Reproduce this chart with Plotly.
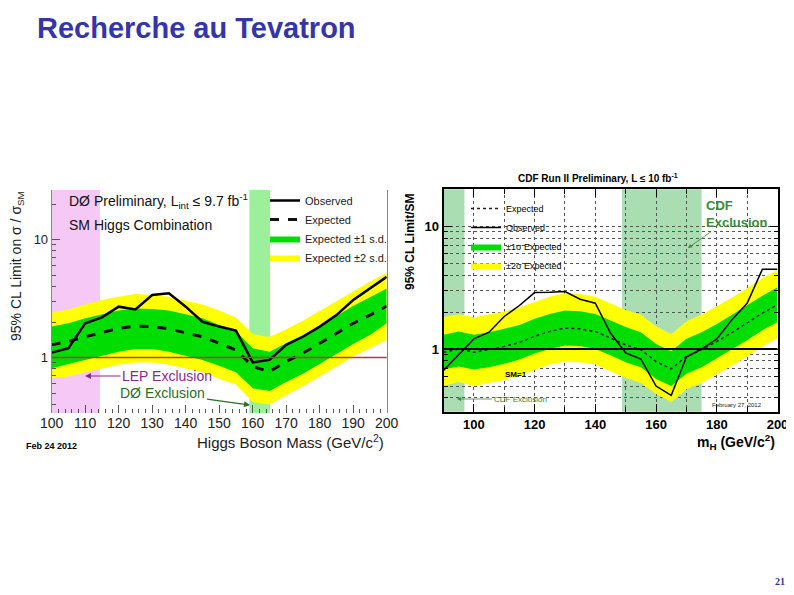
import plotly.graph_objects as go

# the page body keeps its default 8px margin, so the figure sits at (8, 8)
OFF = 8
W, H = 794 - OFF, 595 - 2 * OFF

# --- DØ combination, Feb 24 2012 ---
d0_mass = [100, 105, 110, 115, 120, 125, 130, 135, 140, 145, 150,
           155, 160, 165, 170, 175, 180, 185, 190, 195, 200]
d0_obs = [1.10, 1.20, 1.95, 2.19, 2.70, 2.56, 3.39, 3.50, 2.70, 2.01, 1.83,
          1.69, 0.91, 0.955, 1.28, 1.50, 1.83, 2.29, 3.07, 3.85, 4.83]
d0_exp = [1.28, 1.37, 1.50, 1.63, 1.77, 1.85, 1.83, 1.75, 1.63, 1.50, 1.32,
          1.16, 0.84, 0.76, 0.925, 1.09, 1.32, 1.61, 1.95, 2.29, 2.73]
d0_p1 = [1.83, 1.95, 2.15, 2.32, 2.50, 2.61, 2.58, 2.50, 2.32, 2.15, 1.89,
         1.66, 1.20, 1.12, 1.32, 1.55, 1.86, 2.25, 2.73, 3.24, 3.85]
d0_m1 = [0.81, 0.88, 0.955, 1.03, 1.12, 1.18, 1.18, 1.12, 1.03, 0.955, 0.85,
         0.75, 0.55, 0.52, 0.62, 0.73, 0.88, 1.07, 1.30, 1.55, 1.95]
d0_p2 = [2.40, 2.56, 2.82, 3.07, 3.28, 3.45, 3.39, 3.28, 3.03, 2.82, 2.50,
         2.19, 1.58, 1.49, 1.74, 2.05, 2.48, 3.01, 3.66, 4.39, 5.23]
d0_m2 = [0.67, 0.69, 0.75, 0.81, 0.87, 0.91, 0.91, 0.87, 0.81, 0.75, 0.66,
         0.59, 0.42, 0.40, 0.48, 0.57, 0.69, 0.84, 1.02, 1.20, 1.41]
d0_lep_excl = [100, 114.4]
d0_excl = [159, 165.2]

# --- CDF combination, Feb 27 2012 ---
cdf_mass = [90, 95, 100, 105, 110, 115, 120, 125, 130, 135, 140, 145,
            150, 155, 160, 165, 170, 175, 180, 185, 190, 195, 200]
cdf_obs = [0.67, 0.90, 1.21, 1.37, 1.84, 2.26, 2.88, 2.90, 2.94, 2.54, 2.36, 1.35,
           0.93, 0.83, 0.50, 0.42, 0.86, 1.00, 1.21, 1.73, 2.36, 4.45, 4.45]
cdf_exp = [0.94, 1.00, 0.94, 0.99, 1.05, 1.13, 1.27, 1.39, 1.48, 1.46, 1.39, 1.23,
           1.08, 0.99, 0.79, 0.69, 0.87, 0.99, 1.15, 1.36, 1.62, 1.96, 2.29]
cdf_p1 = [1.31, 1.39, 1.31, 1.37, 1.46, 1.57, 1.76, 1.93, 2.06, 2.03, 1.93, 1.71,
          1.51, 1.37, 1.10, 0.96, 1.21, 1.37, 1.60, 1.90, 2.26, 2.72, 3.18]
cdf_m1 = [0.68, 0.72, 0.68, 0.71, 0.76, 0.82, 0.92, 1.00, 1.07, 1.06, 1.00, 0.89,
          0.78, 0.71, 0.57, 0.50, 0.63, 0.71, 0.84, 0.99, 1.18, 1.42, 1.66]
cdf_p2 = [1.81, 1.92, 1.81, 1.90, 2.02, 2.18, 2.43, 2.67, 2.85, 2.81, 2.67, 2.36,
          2.08, 1.90, 1.53, 1.32, 1.68, 1.90, 2.22, 2.62, 3.12, 3.76, 4.40]
cdf_m2 = [0.50, 0.54, 0.50, 0.53, 0.56, 0.61, 0.68, 0.75, 0.79, 0.78, 0.75, 0.66,
          0.58, 0.53, 0.43, 0.37, 0.47, 0.53, 0.62, 0.73, 0.87, 1.05, 1.23]
cdf_excl = [[90, 96.9], [148.8, 175]]

SM_LEVEL = 1
LOG_MINOR = [0.4, 0.5, 0.6, 0.7, 0.8, 0.9, 2, 3, 4, 5, 6, 7, 8, 9, 20]

YELLOW = "#FFFF00"
GREEN = "#00DD00"
FONT = "Liberation Sans, Arial, sans-serif"


def px(x):
    return (x - OFF) / W


def py(y):
    return 1 - (y - OFF) / H


def add_bands(fig, x, m2, p2, m1, p1, xa, ya, legend, names, ranks):
    for lo, hi, color, name, rank in [(m2, p2, YELLOW, names[1], ranks[1]),
                                      (m1, p1, GREEN, names[0], ranks[0])]:
        fig.add_trace(go.Scatter(x=x, y=lo, mode="lines", line=dict(width=0),
                                 showlegend=False, hoverinfo="skip", xaxis=xa, yaxis=ya))
        fig.add_trace(go.Scatter(x=x, y=hi, mode="lines", line=dict(width=0),
                                 fill="tonexty", fillcolor=color, name=name,
                                 legend=legend, legendrank=rank, xaxis=xa, yaxis=ya))


fig = go.Figure()

# DØ
add_bands(fig, d0_mass, d0_m2, d0_p2, d0_m1, d0_p1, "x", "y", "legend",
          ["Expected ±1 s.d.", "Expected ±2 s.d."], [3, 4])
fig.add_trace(go.Scatter(x=d0_mass, y=d0_exp, mode="lines", name="Expected",
                         line=dict(color="#111", width=3, dash="dash"),
                         legend="legend", legendrank=2))
fig.add_trace(go.Scatter(x=d0_mass, y=d0_obs, mode="lines", name="Observed",
                         line=dict(color="#000", width=2.5),
                         legend="legend", legendrank=1))

# CDF
add_bands(fig, cdf_mass, cdf_m2, cdf_p2, cdf_m1, cdf_p1, "x2", "y2", "legend2",
          ["±1σ Expected", "±2σ Expected"], [3, 4])
fig.add_trace(go.Scatter(x=cdf_mass, y=cdf_exp, mode="lines", name="Expected",
                         line=dict(color="#222", width=1.5, dash="dot"),
                         xaxis="x2", yaxis="y2", legend="legend2", legendrank=1))
fig.add_trace(go.Scatter(x=cdf_mass, y=cdf_obs, mode="lines", name="Observed",
                         line=dict(color="#000", width=1.5),
                         xaxis="x2", yaxis="y2", legend="legend2", legendrank=2))

shapes = [
    dict(type="rect", xref="x", yref="y domain", x0=d0_lep_excl[0], x1=d0_lep_excl[1],
         y0=0, y1=1, fillcolor="#F5C8F5", line=dict(width=0), layer="below"),
    dict(type="rect", xref="x", yref="y domain", x0=d0_excl[0], x1=d0_excl[1],
         y0=0, y1=1, fillcolor="#9CF09C", line=dict(width=0), layer="below"),
    dict(type="line", xref="x domain", yref="y", x0=0, x1=1, y0=SM_LEVEL, y1=SM_LEVEL,
         line=dict(color="#C83232", width=1.5), layer="above"),
    dict(type="line", xref="x2 domain", yref="y2", x0=0, x1=1, y0=SM_LEVEL, y1=SM_LEVEL,
         line=dict(color="#000", width=2), layer="above"),
]
for lo, hi in cdf_excl:
    shapes.append(dict(type="rect", xref="x2", yref="y2 domain", x0=lo, x1=hi, y0=0, y1=1,
                       fillcolor="#AADDB2", line=dict(width=0), layer="below"))


def note(x, y, text, size, color="#000", bold=False, xanchor="center",
         family=FONT, **kw):
    return dict(x=px(x), y=py(y), xref="paper", yref="paper", text=text, showarrow=False,
                xanchor=xanchor, yanchor="middle",
                font=dict(family=family, size=size, color=color,
                          weight="bold" if bold else "normal"), **kw)


def arrow_note(hx, hy, tx, ty, text, size, color, bold=False, align="center", width=1.2):
    return dict(x=px(hx), y=py(hy), xref="paper", yref="paper", text=text, showarrow=True,
                ax=tx - hx, ay=ty - hy, arrowhead=2, arrowsize=1, arrowwidth=width,
                arrowcolor=color, align=align,
                font=dict(family=FONT, size=size, color=color,
                          weight="bold" if bold else "normal"))


annotations = [
    note(35, 28, "Recherche au Tevatron", 29, "#3535A8", bold=True, xanchor="left"),
    note(780, 581, "21", 10, "#333399", bold=True, family="Liberation Serif, serif"),
    # DØ
    note(67, 201, "DØ Preliminary, L<sub>int</sub> ≤ 9.7 fb<sup>-1</sup>", 14, "#111",
         xanchor="left"),
    note(67, 225, "SM Higgs Combination", 14, "#111", xanchor="left"),
    arrow_note(85, 376, 167, 376, "LEP Exclusion", 14, "#8B2A8B"),
    arrow_note(250, 405, 163, 393, "DØ Exclusion", 14, "#2A6E2A"),
    note(24, 446, "Feb 24 2012", 9, bold=True, xanchor="left"),
    note(17, 266, "95% CL Limit on σ / σ<sub>SM</sub>", 14, "#222", textangle=-90),
    note(386, 441, "Higgs Boson Mass (GeV/c<sup>2</sup>)", 15, "#222", xanchor="right"),
    # CDF
    note(598, 178, "CDF Run II Preliminary, L ≤ 10 fb<sup>-1</sup>", 10, bold=True),
    arrow_note(688, 248, 736, 214, "CDF<br>Exclusion", 13, "#3A8A3A", bold=True,
               align="left", width=0.8),
    note(516, 374, "SM=1", 8, bold=True),
    arrow_note(457, 399, 520, 399, "CDF Exclusion", 8, "#3A8A3A", width=0.8),
    note(737, 405, "February 27, 2012", 6, "#222"),
    note(410, 242, "95% CL Limit/SM", 12, bold=True, textangle=-90),
    note(777, 442, "m<sub>H</sub> (GeV/c<sup>2</sup>)", 14, bold=True, xanchor="right"),
]

fig.update_layout(
    width=W, height=H, autosize=False,
    margin=dict(l=0, r=0, t=0, b=0),
    paper_bgcolor="white", plot_bgcolor="white",
    font=dict(family=FONT, color="#000"),
    shapes=shapes, annotations=annotations,
    legend=dict(x=px(265), y=py(186), xanchor="left", yanchor="top",
                bgcolor="rgba(0,0,0,0)", font=dict(size=11, color="#222"),
                traceorder="normal"),
    legend2=dict(x=px(466), y=py(194), xanchor="left", yanchor="top",
                 bgcolor="rgba(0,0,0,0)", font=dict(size=9, color="#000"),
                 traceorder="normal"),
    xaxis=dict(domain=[px(51.7), px(386.7)], range=[100, 200], anchor="y",
               automargin=False,
               tick0=100, dtick=10, ticks="inside", ticklen=8, tickcolor="#555",
               minor=dict(dtick=2, ticks="inside", ticklen=4, tickcolor="#555"),
               showgrid=False, zeroline=False, showline=False,
               tickfont=dict(size=14, color="#222")),
    yaxis=dict(domain=[py(413), py(190)], type="log", range=[-0.47, 1.42], anchor="x",
               automargin=False,
               tickmode="array", tickvals=[1, 10], ticks="inside", ticklen=8,
               tickcolor="#555",
               minor=dict(tickmode="array", tickvals=LOG_MINOR, ticks="inside",
                          ticklen=4, tickcolor="#555"),
               showline=True, mirror=True, linecolor="#888", linewidth=1,
               showgrid=False, zeroline=False, tickfont=dict(size=13, color="#222")),
    xaxis2=dict(domain=[px(443.5), px(777.5)], range=[90, 200], anchor="y2",
                automargin=False, ticklabeloverflow="allow",
                tick0=100, dtick=20, ticks="inside", ticklen=8, tickcolor="#000",
                showline=True, mirror="ticks", linecolor="#000", linewidth=2,
                showgrid=True, gridcolor="#555", griddash="dot", gridwidth=1,
                minor=dict(dtick=10, ticks="inside", ticklen=5, tickcolor="#000",
                           showgrid=True, gridcolor="#555", griddash="dot"),
                layer="above traces", zeroline=False,
                tickfont=dict(size=13, weight="bold")),
    yaxis2=dict(domain=[py(411.7), py(189.3)], type="log", range=[-0.51, 1.30],
                anchor="x2", automargin=False,
                tickmode="array", tickvals=[1, 10], ticks="inside",
                ticklen=8, tickcolor="#000",
                minor=dict(tickmode="array", tickvals=LOG_MINOR, ticks="inside",
                           ticklen=4, tickcolor="#000", showgrid=True,
                           gridcolor="#555", griddash="dot"),
                showline=True, mirror="ticks", linecolor="#000", linewidth=2,
                showgrid=True, gridcolor="#555", griddash="dot", gridwidth=1,
                layer="above traces", zeroline=False,
                tickfont=dict(size=13, weight="bold")),
)

fig.write_html("out.html")
